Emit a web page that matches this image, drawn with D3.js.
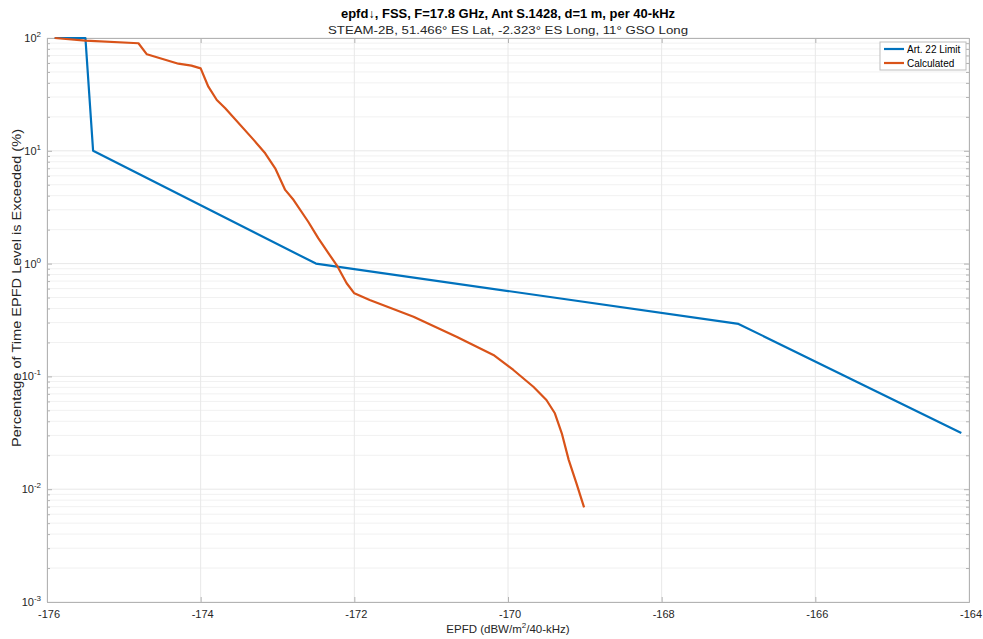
<!DOCTYPE html>
<html>
<head>
<meta charset="utf-8">
<script src="https://cdn.jsdelivr.net/npm/d3@7"></script>
<style>
  html, body { margin: 0; padding: 0; background: #fff; }
  svg { display: block; font-family: "Liberation Sans", Arial, Helvetica, sans-serif; }
</style>
</head>
<body>
<svg id="chart" width="983" height="639"></svg>
<script>
// Art. 22 single-entry epfd limit mask (EPFD dBW/m²/40-kHz vs % of time exceeded)
const limitEpfd = [-175.9, -175.5, -175.4, -172.5, -167.0, -164.1];
const limitPct  = [100, 100, 10, 1, 0.292, 0.0315];

// Calculated epfd distribution
const calcEpfd = [-175.9, -175.5, -174.81, -174.70, -174.29, -174.12, -174.0, -173.90, -173.79,
  -173.68, -173.31, -173.16, -173.03, -172.90, -172.79, -172.60, -172.47, -172.32, -172.23,
  -172.10, -172.0, -171.80, -171.23, -170.67, -170.19, -169.93, -169.67, -169.50, -169.39,
  -169.30, -169.21, -169.11, -169.01];
const calcPct = [100, 94.6, 89.8, 71.7, 59.2, 56.9, 53.8, 37, 28.2,
  23.8, 12.5, 9.5, 7.0, 4.5, 3.66, 2.35, 1.68, 1.19, 0.97,
  0.669, 0.545, 0.476, 0.338, 0.225, 0.155, 0.114, 0.081, 0.0618, 0.0471,
  0.0313, 0.0182, 0.0113, 0.0069];

const xTicks = [-176, -174, -172, -170, -168, -166, -164];
const yExponents = [2, 1, 0, -1, -2, -3];

const seriesNames = ["Art. 22 Limit", "Calculated"];
const seriesColors = ["#0072BD", "#D95319"];

const titleText = "epfd\u2193, FSS, F=17.8 GHz, Ant S.1428, d=1 m, per 40-kHz";
const subtitleText = "STEAM-2B, 51.466\u00b0 ES Lat, -2.323\u00b0 ES Long, 11\u00b0 GSO Long";

const svg = d3.select("#chart");
const plotL = 47, plotR = 969, plotT = 38, plotB = 602;

const x = d3.scaleLinear().domain([-176, -164]).range([plotL, plotR]);
const y = d3.scaleLog().domain([1e-3, 1e2]).range([plotB, plotT]);

const textColor = "#262626";
const boxColor = "#b3b3b3";

// Minor horizontal grid (log decades 2..9)
const minorVals = [];
for (let e = -3; e < 2; e++) for (let m = 2; m <= 9; m++) minorVals.push(m * Math.pow(10, e));
const majorVals = yExponents.map(e => Math.pow(10, e));

const grid = svg.append("g");
grid.append("g").selectAll("line").data(minorVals).join("line")
  .attr("x1", plotL).attr("x2", plotR)
  .attr("y1", d => y(d)).attr("y2", d => y(d))
  .attr("stroke", "#f1f1f1").attr("stroke-width", 1);
grid.append("g").selectAll("line").data(majorVals).join("line")
  .attr("x1", plotL).attr("x2", plotR)
  .attr("y1", d => y(d)).attr("y2", d => y(d))
  .attr("stroke", "#e8e8e8").attr("stroke-width", 1);
grid.append("g").selectAll("line").data(xTicks).join("line")
  .attr("x1", d => x(d)).attr("x2", d => x(d))
  .attr("y1", plotT).attr("y2", plotB)
  .attr("stroke", "#e8e8e8").attr("stroke-width", 1);

// Axes with inward ticks on all four sides
const tickLen = 5, minorLen = 3;
const axisL = d3.axisLeft(y).tickValues(majorVals).tickSizeInner(-tickLen).tickSizeOuter(0).tickFormat("");
const axisR = d3.axisRight(y).tickValues(majorVals).tickSizeInner(-tickLen).tickSizeOuter(0).tickFormat("");
const axisB = d3.axisBottom(x).tickValues(xTicks).tickSizeInner(-tickLen).tickSizeOuter(0).tickFormat("");
const axisT = d3.axisTop(x).tickValues(xTicks).tickSizeInner(-tickLen).tickSizeOuter(0).tickFormat("");
const axisLm = d3.axisLeft(y).tickValues(minorVals).tickSizeInner(-minorLen).tickSizeOuter(0).tickFormat("");
const axisRm = d3.axisRight(y).tickValues(minorVals).tickSizeInner(-minorLen).tickSizeOuter(0).tickFormat("");

function styleAxis(g) {
  g.selectAll("path").attr("stroke", boxColor);
  g.selectAll("line").attr("stroke", boxColor);
}
svg.append("g").attr("transform", `translate(${plotL},0)`).call(axisL).call(styleAxis);
svg.append("g").attr("transform", `translate(${plotL},0)`).call(axisLm).call(styleAxis);
svg.append("g").attr("transform", `translate(${plotR},0)`).call(axisR).call(styleAxis);
svg.append("g").attr("transform", `translate(${plotR},0)`).call(axisRm).call(styleAxis);
svg.append("g").attr("transform", `translate(0,${plotB})`).call(axisB).call(styleAxis);
svg.append("g").attr("transform", `translate(0,${plotT})`).call(axisT).call(styleAxis);

// Tick labels
svg.append("g").selectAll("text").data(xTicks).join("text")
  .attr("x", d => x(d) + 2).attr("y", plotB + 16)
  .attr("text-anchor", "middle").attr("font-size", 11).attr("fill", textColor)
  .text(d => d);

const yl = svg.append("g").selectAll("text").data(yExponents).join("text")
  .attr("x", plotL - 6).attr("y", d => y(Math.pow(10, d)) + 4)
  .attr("text-anchor", "end").attr("font-size", 11).attr("fill", textColor);
yl.append("tspan").text("10");
yl.append("tspan").attr("dy", -5).attr("font-size", 8).text(d => d);

// Series
const line = d3.line().x(d => x(d[0])).y(d => y(d[1]));
const series = [
  d3.zip(limitEpfd, limitPct),
  d3.zip(calcEpfd, calcPct)
];
svg.append("g").selectAll("path").data(series).join("path")
  .attr("d", line)
  .attr("fill", "none")
  .attr("stroke", (d, i) => seriesColors[i])
  .attr("stroke-width", 2.2)
  .attr("stroke-linejoin", "round");

// Titles
const cx = (plotL + plotR) / 2;
svg.append("text").attr("x", cx).attr("y", 18)
  .attr("text-anchor", "middle").attr("font-size", 12).attr("font-weight", "bold")
  .attr("textLength", 334).attr("lengthAdjust", "spacingAndGlyphs")
  .attr("fill", "#000").text(titleText);
svg.append("text").attr("x", cx).attr("y", 34)
  .attr("text-anchor", "middle").attr("font-size", 11.5)
  .attr("textLength", 360).attr("lengthAdjust", "spacingAndGlyphs")
  .attr("fill", textColor).text(subtitleText);

// Axis labels
const xl = svg.append("text").attr("x", cx).attr("y", 633)
  .attr("text-anchor", "middle").attr("font-size", 11.5).attr("fill", textColor);
xl.append("tspan").text("EPFD (dBW/m");
xl.append("tspan").attr("dy", -5).attr("font-size", 8).text("2");
xl.append("tspan").attr("dy", 5).text("/40-kHz)");

svg.append("text")
  .attr("transform", "translate(21,288) rotate(-90)")
  .attr("text-anchor", "middle").attr("font-size", 12)
  .attr("textLength", 318).attr("lengthAdjust", "spacingAndGlyphs")
  .attr("fill", textColor)
  .text("Percentage of Time EPFD Level is Exceeded (%)");

// Legend
const lg = svg.append("g").attr("transform", "translate(880,42)");
lg.append("rect").attr("width", 86).attr("height", 28)
  .attr("fill", "#fff").attr("stroke", "#bdbdbd").attr("stroke-width", 1);
seriesNames.forEach((name, i) => {
  const yy = 7 + i * 14;
  lg.append("line").attr("x1", 4).attr("x2", 24).attr("y1", yy).attr("y2", yy)
    .attr("stroke", seriesColors[i]).attr("stroke-width", 2.2);
  lg.append("text").attr("x", 27).attr("y", yy + 3.5).attr("font-size", 10)
    .attr("fill", "#000").text(name);
});
</script>
</body>
</html>
